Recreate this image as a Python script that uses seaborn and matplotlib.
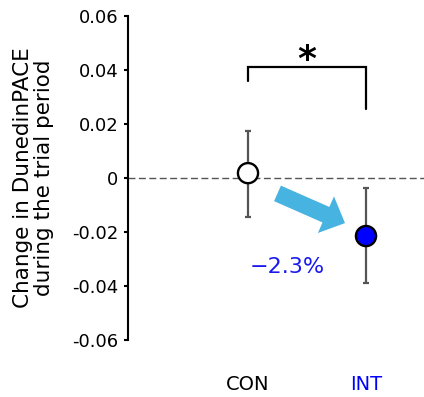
import matplotlib
matplotlib.use("Agg")
import matplotlib.pyplot as plt
import seaborn as sns
import pandas as pd

groups = ["CON", "INT"]
means = [0.0018, -0.0215]
err_low = [-0.0145, -0.0390]
err_high = [0.0175, -0.0037]
face_colors = ["#ffffff", "#0000ff"]
label_colors = ["#000000", "#0000ff"]
yticks = [-0.06, -0.04, -0.02, 0, 0.02, 0.04, 0.06]
ytick_labels = ["-0.06", "-0.04", "-0.02", "0", "0.02", "0.04", "0.06"]
bracket_x = [0, 0, 1, 1]
bracket_y = [0.036, 0.041, 0.041, 0.0255]
star_pos = (0.5, 0.0400)
arrow_start = (0.25, -0.0057)
arrow_end = (0.822, -0.0167)
pct_text = "\u22122.3%"
pct_pos = (0.33, -0.033)

df = pd.DataFrame({"group": groups, "mean": means})

sns.set_style("ticks")
plt.rcParams["font.family"] = ["DejaVu Sans"]
plt.rcParams["text.color"] = "black"
plt.rcParams["axes.labelcolor"] = "black"
plt.rcParams["xtick.color"] = "black"
plt.rcParams["ytick.color"] = "black"

fig = plt.figure(figsize=(4.24, 3.97), dpi=100)
ax = fig.add_axes([128 / 424, 1 - 340 / 397, 1 - 128 / 424, 324 / 397])

ax.axhline(0, color="#555555", lw=1.0, dashes=(5, 2.5), zorder=1)

yerr = [[m - lo for m, lo in zip(means, err_low)], [hi - m for m, hi in zip(means, err_high)]]
ax.errorbar(groups, means, yerr=yerr, fmt="none", ecolor="#555555",
            elinewidth=1.6, capsize=2, capthick=1.6, zorder=2)

sns.scatterplot(data=df, x="group", y="mean", hue="group", palette=dict(zip(groups, face_colors)),
                s=210, edgecolor="black", linewidth=1.7, legend=False, zorder=3, ax=ax)

ax.plot(bracket_x, bracket_y, color="black", lw=1.6, solid_joinstyle="miter", zorder=2)
ax.text(star_pos[0], star_pos[1], "*", ha="center", va="baseline", fontsize=26,
        fontweight="bold", color="black")

ax.annotate("", xy=arrow_end, xytext=arrow_start,
            arrowprops=dict(arrowstyle="simple,head_length=15,head_width=28.8,tail_width=12.2",
                            mutation_scale=1, color="#47b3e0", shrinkA=0, shrinkB=0, lw=0))
ax.text(pct_pos[0], pct_pos[1], pct_text, ha="center", va="center", fontsize=16, color="#1a1aee")

ax.set_xlim(-120 / 118, 176 / 118)
ax.set_ylim(-0.06, 0.06)
ax.set_yticks(yticks)
ax.set_yticklabels(ytick_labels)
ax.tick_params(axis="y", length=3, width=1.5, labelsize=13, pad=4, colors="black")
ax.tick_params(axis="x", length=0, labelsize=14, pad=25)
for lbl, c in zip(ax.get_xticklabels(), label_colors):
    lbl.set_color(c)

ax.set_xlabel("")
ax.set_ylabel("Change in DunedinPACE\nduring the trial period", fontsize=15.5,
              linespacing=1.05, color="black")
ax.yaxis.set_label_coords(-0.25, 0.5)

for s in ["top", "right", "bottom"]:
    ax.spines[s].set_visible(False)
ax.spines["left"].set_linewidth(1.5)
ax.spines["left"].set_color("black")

fig.savefig("out.png", dpi=100)
